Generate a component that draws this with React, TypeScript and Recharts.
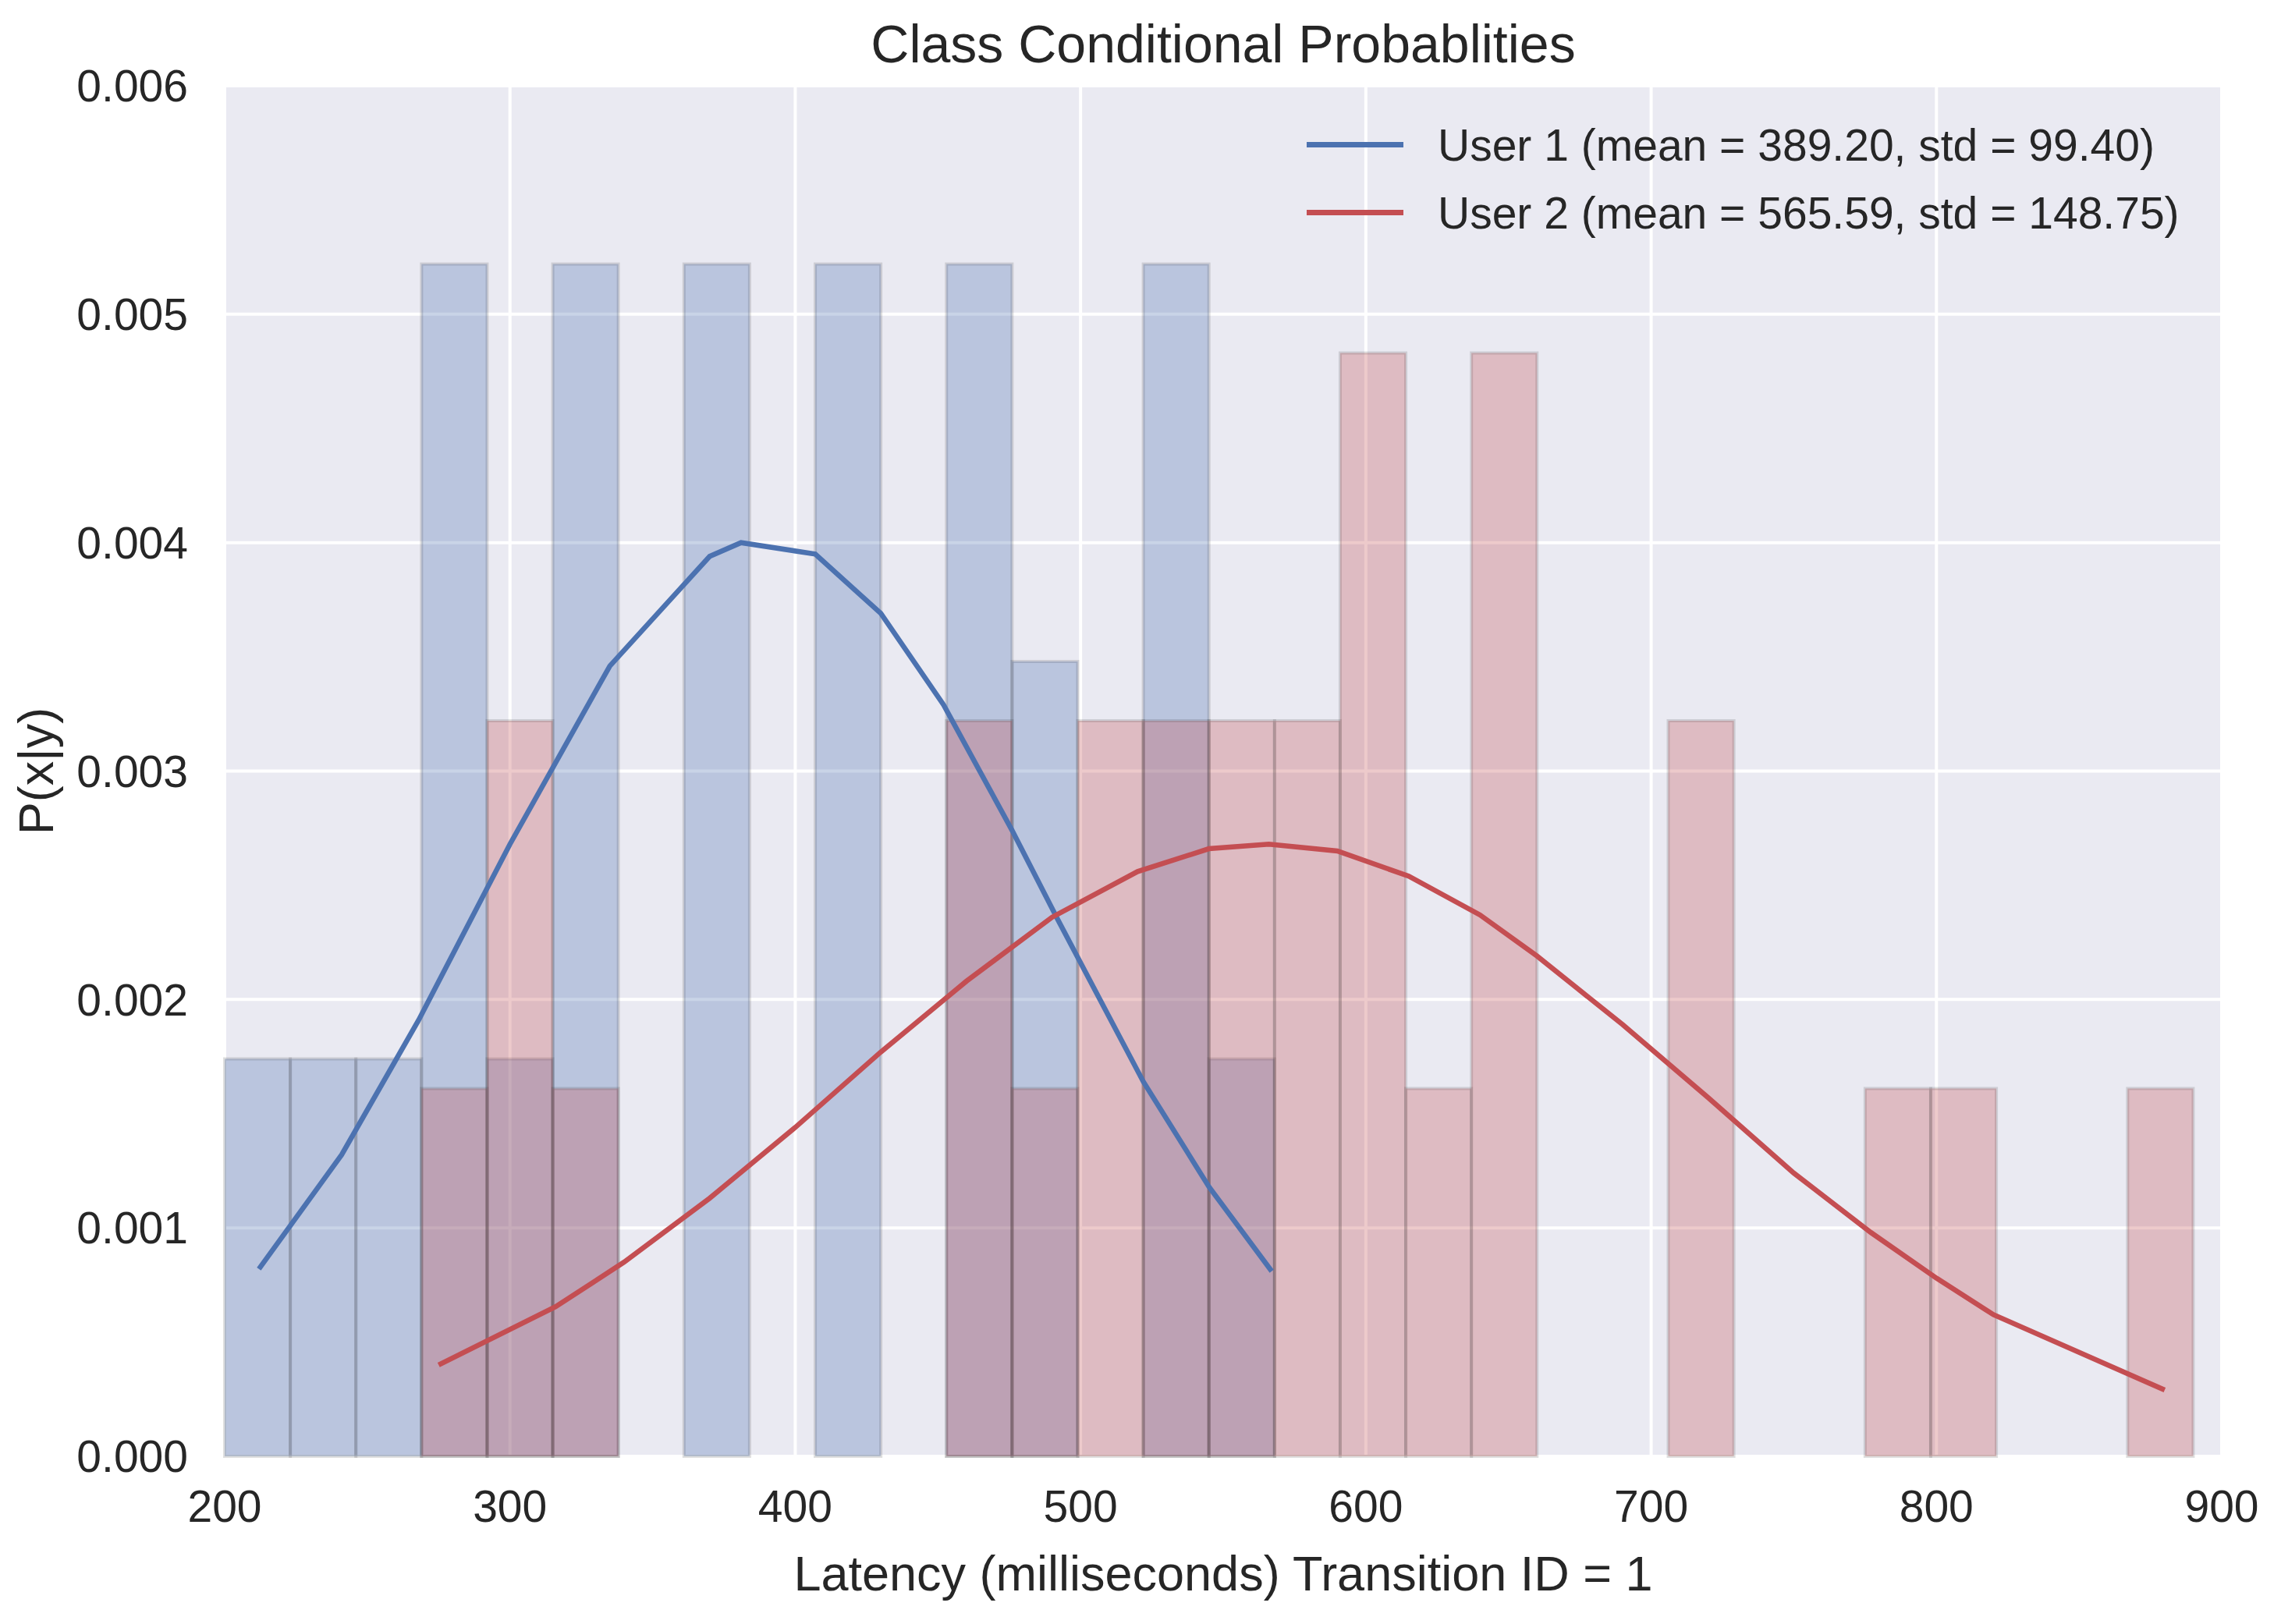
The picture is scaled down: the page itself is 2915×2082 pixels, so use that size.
import React from "react";
import {
  ComposedChart,
  Line,
  XAxis,
  YAxis,
  CartesianGrid,
  ReferenceArea,
  Legend,
} from "recharts";

// histogram bin edges (shared by both users)
const binEdges = [
  200, 223, 246, 269, 292, 315, 338, 361, 384, 407, 430, 453, 476, 499, 522,
  545, 568, 591, 614, 637, 660, 683, 706, 729, 752, 775, 798, 821, 844, 867,
  890,
];

// normalised histogram heights per bin
const user1Density = [
  0.00174, 0.00174, 0.00174, 0.00522, 0.00174, 0.00522, 0, 0.00522, 0,
  0.00522, 0, 0.00522, 0.00348, 0, 0.00522, 0.00174,
];
const user2Density = [
  0, 0, 0, 0.00161, 0.00322, 0.00161, 0, 0, 0, 0, 0, 0.00322, 0.00161,
  0.00322, 0.00322, 0.00322, 0.00322, 0.00483, 0.00161, 0.00483, 0, 0,
  0.00322, 0, 0, 0.00161, 0.00161, 0, 0, 0.00161,
];

// fitted normal curves, read at the sample points
const user1X = [212, 241, 268, 300, 335, 370, 381, 407, 430, 452, 476, 492, 522, 545, 567];
const user1Y = [
  0.00082, 0.00132, 0.00191, 0.00268, 0.00346, 0.00394, 0.004, 0.00395,
  0.00369, 0.00329, 0.00274, 0.00235, 0.00164, 0.00118, 0.00081,
];
const user2X = [
  275, 316, 340, 370, 400, 430, 460, 490, 520, 545, 566, 590, 615, 640, 660,
  690, 720, 750, 777, 800, 820, 880,
];
const user2Y = [
  0.0004, 0.000655, 0.00085, 0.00113, 0.00144, 0.00177, 0.00208, 0.00236,
  0.00256, 0.00266, 0.00268, 0.00265, 0.00254, 0.00237, 0.00219, 0.00189,
  0.00157, 0.00124, 0.00098, 0.00078, 0.00062, 0.00029,
];

const seriesNames = [
  "User 1 (mean = 389.20, std = 99.40)",
  "User 2 (mean = 565.59, std = 148.75)",
];

const xTicks = [200, 300, 400, 500, 600, 700, 800, 900];
const yTicks = [0, 0.001, 0.002, 0.003, 0.004, 0.005, 0.006];

const BLUE = "#4C72B0";
const RED = "#C44E52";
const TEXT = "#262626";
const FONT = "'Liberation Sans', Arial, sans-serif";

const user1Line = user1X.map((x, i) => ({ x, y: user1Y[i] }));
const user2Line = user2X.map((x, i) => ({ x, y: user2Y[i] }));

const WIDTH = 2900;
const HEIGHT = 2066;

function renderLegend(props: any) {
  const { payload } = props;
  return (
    <div style={{ fontFamily: FONT, fontSize: 57, color: TEXT }}>
      {(payload || []).map((entry: any) => (
        <div
          key={entry.value}
          style={{ display: "flex", alignItems: "center", height: 87 }}
        >
          <div
            style={{
              width: 124,
              height: 7,
              background: entry.color,
              marginRight: 44,
            }}
          />
          <span style={{ whiteSpace: "nowrap" }}>{entry.value}</span>
        </div>
      ))}
    </div>
  );
}

function histBars(density: number[], color: string, prefix: string) {
  return density.map((d, i) =>
    d > 0 ? (
      <ReferenceArea
        key={`${prefix}-${i}`}
        x1={binEdges[i]}
        x2={binEdges[i + 1]}
        y1={0}
        y2={d}
        fill={color}
        fillOpacity={0.3}
        stroke="#262626"
        strokeOpacity={0.15}
        strokeWidth={4}
        ifOverflow="visible"
      />
    ) : null
  );
}

export default function App() {
  return (
    <div style={{ position: "relative", width: WIDTH, height: HEIGHT, fontFamily: FONT }}>
      <div
        style={{
          position: "absolute",
          top: 0,
          left: 280,
          width: 2560,
          height: 96,
          lineHeight: "96px",
          textAlign: "center",
          fontSize: 68,
          color: TEXT,
          zIndex: 2,
        }}
      >
        Class Conditional Probablities
      </div>
      <ComposedChart
        width={WIDTH}
        height={HEIGHT}
        margin={{ top: 102, right: 60, bottom: 0, left: 0 }}
      >
        <CartesianGrid fill="#EAEAF2" stroke="#FFFFFF" strokeWidth={4} />
        <XAxis
          type="number"
          dataKey="x"
          domain={[200, 900]}
          ticks={xTicks}
          allowDataOverflow
          height={207}
          axisLine={false}
          tickLine={false}
          tickSize={0}
          tickMargin={44}
          tick={{ fill: TEXT, fontSize: 57, fontFamily: FONT }}
          label={{
            content: (p: any) => {
              const vb = p.viewBox || {};
              return (
                <text
                  x={vb.x + vb.width / 2}
                  y={vb.y + 150}
                  textAnchor="middle"
                  dominantBaseline="central"
                  fill={TEXT}
                  fontSize={63}
                  fontFamily={FONT}
                >
                  Latency (milliseconds) Transition ID = 1
                </text>
              );
            },
          }}
        />
        <YAxis
          type="number"
          domain={[0, 0.006]}
          ticks={yTicks}
          allowDataOverflow
          width={280}
          axisLine={false}
          tickLine={false}
          tickSize={0}
          tickMargin={47}
          tickFormatter={(v: number) => v.toFixed(3)}
          tick={{ fill: TEXT, fontSize: 57, fontFamily: FONT }}
          label={{
            content: (p: any) => {
              const vb = p.viewBox || {};
              const cx = vb.x + 38;
              const cy = vb.y + vb.height / 2;
              return (
                <text
                  x={cx}
                  y={cy}
                  transform={`rotate(-90, ${cx}, ${cy})`}
                  textAnchor="middle"
                  dominantBaseline="central"
                  fill={TEXT}
                  fontSize={63}
                  fontFamily={FONT}
                >
                  P(x|y)
                </text>
              );
            },
          }}
        />
        {histBars(user1Density, BLUE, "u1")}
        {histBars(user2Density, RED, "u2")}
        <Line
          data={user1Line}
          dataKey="y"
          name={seriesNames[0]}
          type="linear"
          stroke={BLUE}
          strokeWidth={6.5}
          dot={false}
          isAnimationActive={false}
        />
        <Line
          data={user2Line}
          dataKey="y"
          name={seriesNames[1]}
          type="linear"
          stroke={RED}
          strokeWidth={6.5}
          dot={false}
          isAnimationActive={false}
        />
        <Legend
          layout="vertical"
          align="center"
          verticalAlign="middle"
          wrapperStyle={{ top: 134, left: 1667, width: 1200 }}
          content={renderLegend}
        />
      </ComposedChart>
    </div>
  );
}
